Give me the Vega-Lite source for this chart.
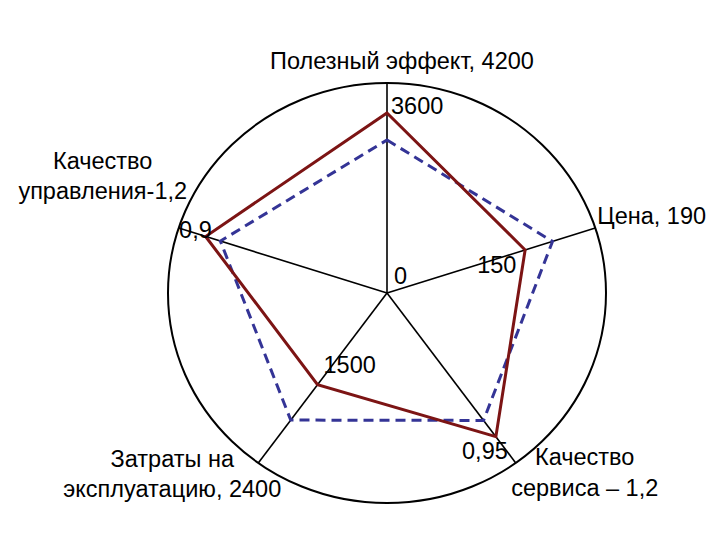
{
  "$schema": "https://vega.github.io/schema/vega-lite/v6.json",
  "width": 720,
  "height": 540,
  "autosize": {"type": "fit", "contains": "padding"},
  "padding": 0,
  "background": "white",
  "config": {
    "view": {"stroke": null},
    "text": {"font": "Liberation Sans", "fontSize": 23.5, "color": "black", "baseline": "middle"}
  },
  "datasets": {
    "axes": [
      {"k": 0, "axis": "Полезный эффект", "max": 4200, "title": ["Полезный эффект, 4200"]},
      {"k": 1, "axis": "Цена", "max": 190, "title": ["Цена, 190"]},
      {"k": 2, "axis": "Качество сервиса", "max": 1.2, "title": ["Качество", "сервиса – 1,2"]},
      {"k": 3, "axis": "Затраты на эксплуатацию", "max": 2400, "title": ["Затраты на", "эксплуатацию, 2400"]},
      {"k": 4, "axis": "Качество управления", "max": 1.2, "title": ["Качество", "управления-1,2"]}
    ],
    "profiles": [
      {"series": "A", "k": 0, "value": 3600},
      {"series": "A", "k": 1, "value": 126},
      {"series": "A", "k": 2, "value": 1.015},
      {"series": "A", "k": 3, "value": 1295},
      {"series": "A", "k": 4, "value": 1.045},
      {"series": "B", "k": 0, "value": 3060},
      {"series": "B", "k": 1, "value": 151},
      {"series": "B", "k": 2, "value": 0.9},
      {"series": "B", "k": 3, "value": 1795},
      {"series": "B", "k": 4, "value": 0.96}
    ],
    "ticks": [
      {"k": 0, "value": 3600, "text": "3600"},
      {"k": 1, "value": 150, "text": "150"},
      {"k": 0, "value": 0, "text": "0"},
      {"k": 2, "value": 0.95, "text": "0,95"},
      {"k": 3, "value": 1500, "text": "1500"},
      {"k": 4, "value": 0.9, "text": "0,9"}
    ]
  },
  "encoding": {
    "x": {"field": "x", "type": "quantitative", "axis": null, "scale": {"domain": [-1.76712, 1.52055], "nice": false, "zero": false}},
    "y": {"field": "y", "type": "quantitative", "axis": null, "scale": {"domain": [-1.17619, 1.39524], "nice": false, "zero": false}}
  },
  "layer": [
    {
      "data": {"name": "axes"},
      "transform": [
        {"filter": "datum.k === 0"},
        {"calculate": "0", "as": "x"},
        {"calculate": "0", "as": "y"}
      ],
      "mark": {
        "type": "point",
        "shape": "M-1,0C-1,-0.5296 -0.5523,-0.9589 0,-0.9589C0.5523,-0.9589 1,-0.5296 1,0C1,0.5296 0.5523,0.9589 0,0.9589C-0.5523,0.9589 -1,0.5296 -1,0Z",
        "size": 191844,
        "filled": false,
        "fill": null,
        "stroke": "black",
        "strokeWidth": 2,
        "opacity": 1
      }
    },
    {
      "data": {"name": "axes"},
      "transform": [
        {"calculate": "(90 - 72 * datum.k) * PI / 180", "as": "ang"},
        {"calculate": "0", "as": "x"},
        {"calculate": "0", "as": "y"},
        {"calculate": "cos(datum.ang)", "as": "ex"},
        {"calculate": "sin(datum.ang)", "as": "ey"}
      ],
      "mark": {"type": "rule", "stroke": "black", "strokeWidth": 1.6},
      "encoding": {
        "x2": {"field": "ex"},
        "y2": {"field": "ey"}
      }
    },
    {
      "data": {"name": "profiles"},
      "transform": [
        {"lookup": "k", "from": {"data": {"name": "axes"}, "key": "k", "fields": ["max"]}},
        {"calculate": "datum.value / datum.max", "as": "share"},
        {"calculate": "(90 - 72 * datum.k) * PI / 180", "as": "ang"},
        {"calculate": "datum.share * cos(datum.ang)", "as": "x"},
        {"calculate": "datum.share * sin(datum.ang)", "as": "y"}
      ],
      "layer": [
        {
          "transform": [{"filter": "datum.series === 'B'"}],
          "mark": {"type": "line", "interpolate": "linear-closed", "stroke": "#343496", "strokeWidth": 3, "strokeDash": [10, 6], "strokeJoin": "miter"},
          "encoding": {"order": {"field": "k", "type": "quantitative"}}
        },
        {
          "transform": [{"filter": "datum.series === 'A'"}],
          "mark": {"type": "line", "interpolate": "linear-closed", "stroke": "#7c1414", "strokeWidth": 3, "strokeJoin": "miter"},
          "encoding": {"order": {"field": "k", "type": "quantitative"}}
        }
      ]
    },
    {
      "data": {"name": "axes"},
      "transform": [
        {"calculate": "(90 - 72 * datum.k) * PI / 180", "as": "ang"},
        {"calculate": "cos(datum.ang)", "as": "x"},
        {"calculate": "sin(datum.ang)", "as": "y"}
      ],
      "encoding": {"text": {"field": "title"}},
      "layer": [
        {"transform": [{"filter": "datum.k === 0"}], "mark": {"type": "text", "align": "center", "dx": 15, "dy": -21}},
        {"transform": [{"filter": "datum.k === 1"}], "mark": {"type": "text", "align": "left", "dx": 2, "dy": -11}},
        {"transform": [{"filter": "datum.k === 2"}], "mark": {"type": "text", "align": "center", "dx": 69, "dy": -5, "lineHeight": 31}},
        {"transform": [{"filter": "datum.k === 3"}], "mark": {"type": "text", "align": "center", "dx": -86, "dy": -3, "lineHeight": 30}},
        {"transform": [{"filter": "datum.k === 4"}], "mark": {"type": "text", "align": "center", "dx": -76, "dy": -66, "lineHeight": 30}}
      ]
    },
    {
      "data": {"name": "ticks"},
      "transform": [
        {"lookup": "k", "from": {"data": {"name": "axes"}, "key": "k", "fields": ["max"]}},
        {"calculate": "datum.value / datum.max", "as": "share"},
        {"calculate": "(90 - 72 * datum.k) * PI / 180", "as": "ang"},
        {"calculate": "datum.share * cos(datum.ang)", "as": "x"},
        {"calculate": "datum.share * sin(datum.ang)", "as": "y"}
      ],
      "encoding": {"text": {"field": "text"}},
      "layer": [
        {"transform": [{"filter": "datum.text === '3600'"}], "mark": {"type": "text", "align": "left", "dx": 4, "dy": -6}},
        {"transform": [{"filter": "datum.text === '150'"}], "mark": {"type": "text", "align": "right", "dx": -35, "dy": 24}},
        {"transform": [{"filter": "datum.text === '0'"}], "mark": {"type": "text", "align": "left", "dx": 7, "dy": -16}},
        {"transform": [{"filter": "datum.text === '0,95'"}], "mark": {"type": "text", "align": "center", "dx": -4, "dy": 25}},
        {"transform": [{"filter": "datum.text === '1500'"}], "mark": {"type": "text", "align": "left", "dx": 17, "dy": -33}},
        {"transform": [{"filter": "datum.text === '0,9'"}], "mark": {"type": "text", "align": "right", "dx": -19, "dy": -13}}
      ]
    }
  ]
}
